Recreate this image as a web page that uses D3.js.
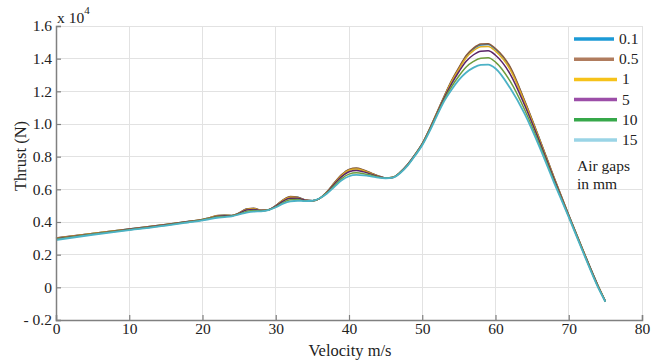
<!DOCTYPE html>
<html>
<head>
<meta charset="utf-8">
<script src="https://cdn.jsdelivr.net/npm/d3@7"></script>
<style>
  html, body { margin: 0; padding: 0; background: #fff; }
  svg { display: block; }
  text { font-family: "Liberation Serif", "Times New Roman", serif; fill: #222; }
</style>
</head>
<body>
<svg id="chart" width="654" height="360"></svg>
<script>
// ---- data (thrust in units of 10^4 N) ----
const velocity = [0, 5, 10, 15, 18, 20, 21, 22, 23, 24, 25, 26, 27, 28, 29, 30, 31, 32, 33, 34, 35, 36, 37, 38, 39, 40, 41, 42, 43, 44, 45, 46, 47, 48, 49, 50, 51, 52, 53, 54, 55, 56, 57, 58, 59, 60, 62, 64, 66, 68, 70, 72, 74, 75];

const gap01 = [0.301, 0.330, 0.357, 0.385, 0.403, 0.416, 0.426, 0.439, 0.441, 0.440, 0.455, 0.479, 0.483, 0.472, 0.475, 0.500, 0.534, 0.554, 0.551, 0.535, 0.530, 0.545, 0.585, 0.639, 0.688, 0.720, 0.728, 0.716, 0.699, 0.682, 0.670, 0.674, 0.705, 0.752, 0.812, 0.880, 0.969, 1.069, 1.169, 1.262, 1.341, 1.415, 1.459, 1.484, 1.486, 1.456, 1.344, 1.136, 0.908, 0.670, 0.441, 0.221, 0.010, -0.085];
const gap05 = [0.302, 0.330, 0.357, 0.385, 0.403, 0.416, 0.426, 0.440, 0.442, 0.440, 0.455, 0.480, 0.484, 0.472, 0.475, 0.500, 0.535, 0.556, 0.552, 0.535, 0.530, 0.545, 0.585, 0.640, 0.690, 0.722, 0.730, 0.718, 0.700, 0.682, 0.670, 0.674, 0.705, 0.752, 0.812, 0.880, 0.970, 1.070, 1.170, 1.265, 1.345, 1.420, 1.465, 1.490, 1.492, 1.462, 1.350, 1.140, 0.910, 0.672, 0.442, 0.222, 0.010, -0.085];
const gap1 = [0.300, 0.329, 0.356, 0.384, 0.402, 0.415, 0.425, 0.438, 0.440, 0.439, 0.454, 0.477, 0.481, 0.471, 0.475, 0.499, 0.532, 0.552, 0.549, 0.534, 0.530, 0.545, 0.584, 0.637, 0.685, 0.717, 0.725, 0.714, 0.697, 0.681, 0.670, 0.674, 0.704, 0.751, 0.811, 0.879, 0.968, 1.067, 1.166, 1.258, 1.335, 1.406, 1.449, 1.473, 1.475, 1.446, 1.333, 1.130, 0.904, 0.668, 0.440, 0.220, 0.009, -0.085];
const gap5 = [0.298, 0.327, 0.355, 0.383, 0.401, 0.414, 0.423, 0.435, 0.438, 0.438, 0.452, 0.473, 0.477, 0.470, 0.474, 0.497, 0.527, 0.546, 0.545, 0.533, 0.530, 0.545, 0.582, 0.632, 0.678, 0.708, 0.716, 0.707, 0.693, 0.679, 0.669, 0.673, 0.703, 0.750, 0.810, 0.877, 0.965, 1.063, 1.160, 1.246, 1.320, 1.384, 1.424, 1.446, 1.448, 1.421, 1.306, 1.113, 0.893, 0.661, 0.438, 0.218, 0.007, -0.086];
const gap10 = [0.294, 0.325, 0.352, 0.380, 0.399, 0.412, 0.421, 0.430, 0.434, 0.437, 0.449, 0.465, 0.470, 0.467, 0.473, 0.493, 0.519, 0.536, 0.537, 0.530, 0.530, 0.545, 0.578, 0.623, 0.666, 0.693, 0.701, 0.696, 0.686, 0.675, 0.669, 0.673, 0.702, 0.747, 0.807, 0.873, 0.960, 1.056, 1.150, 1.228, 1.294, 1.349, 1.383, 1.403, 1.405, 1.379, 1.262, 1.086, 0.876, 0.650, 0.434, 0.214, 0.003, -0.087];
const gap15 = [0.290, 0.322, 0.350, 0.378, 0.397, 0.410, 0.418, 0.426, 0.430, 0.435, 0.446, 0.458, 0.464, 0.465, 0.472, 0.490, 0.512, 0.526, 0.530, 0.528, 0.530, 0.545, 0.575, 0.615, 0.655, 0.680, 0.688, 0.686, 0.680, 0.672, 0.668, 0.672, 0.700, 0.745, 0.805, 0.870, 0.955, 1.050, 1.140, 1.210, 1.270, 1.315, 1.345, 1.362, 1.364, 1.340, 1.220, 1.060, 0.860, 0.640, 0.430, 0.210, 0.000, -0.088];

const seriesNames = ["0.1", "0.5", "1", "5", "10", "15"];
const seriesValues = [gap01, gap05, gap1, gap5, gap10, gap15];
const lineColors = ["#2a82bd", "#8c5a3c", "#dfae22", "#5a2468", "#6e9c3c", "#4cb2c6"];
const legendColors = ["#1c9ad6", "#b07c5e", "#f6c21a", "#9c4ea8", "#36a84a", "#9ad4e6"];

const xTicks = [0, 10, 20, 30, 40, 50, 60, 70, 80];
const yTicks = [-0.2, 0, 0.2, 0.4, 0.6, 0.8, 1.0, 1.2, 1.4, 1.6];
const yTickLabels = ["- 0.2", "0", "0.2", "0.4", "0.6", "0.8", "1.0", "1.2", "1.4", "1.6"];

// ---- layout ----
const svg = d3.select("#chart");
const L = 56, R = 642, T = 26, B = 320;
const x = d3.scaleLinear().domain([0, 80]).range([L, R]);
const y = d3.scaleLinear().domain([-0.2, 1.6]).range([B, T]);

// grid
const grid = svg.append("g");
grid.selectAll("line.v").data(xTicks).join("line")
  .attr("x1", d => x(d)).attr("x2", d => x(d)).attr("y1", T).attr("y2", B)
  .attr("stroke", "#e2e2e2").attr("stroke-width", 1).attr("shape-rendering", "crispEdges");
grid.selectAll("line.h").data(yTicks).join("line")
  .attr("x1", L).attr("x2", R).attr("y1", d => y(d)).attr("y2", d => y(d))
  .attr("stroke", "#e2e2e2").attr("stroke-width", 1).attr("shape-rendering", "crispEdges");

// lines
const line = d3.line().x(d => x(d[0])).y(d => y(d[1])).curve(d3.curveMonotoneX);
seriesValues.forEach((vals, i) => {
  svg.append("path")
    .datum(velocity.map((v, j) => [v, vals[j]]))
    .attr("fill", "none")
    .attr("stroke", lineColors[i])
    .attr("stroke-width", i === 5 ? 1.8 : 1.5)
    .attr("d", line);
});

// axes
const xAxis = svg.append("g").attr("transform", `translate(0,${B})`)
  .call(d3.axisBottom(x).tickValues(xTicks).tickSize(-5).tickPadding(3).tickFormat(d3.format("d")));
const yAxis = svg.append("g").attr("transform", `translate(${L},0)`)
  .call(d3.axisLeft(y).tickValues(yTicks).tickSize(-5).tickPadding(4).tickFormat((d, i) => yTickLabels[i]));
[xAxis, yAxis].forEach(g => {
  g.select(".domain").attr("stroke", "#808080").attr("stroke-width", 1.5);
  g.selectAll(".tick line").attr("stroke", "#808080").attr("stroke-width", 1.2);
  g.selectAll("text").attr("font-size", 15.5).attr("fill", "#222")
    .attr("font-family", "Liberation Serif, serif");
});

// multiplier
const mult = svg.append("text").attr("x", 57).attr("y", 23).attr("font-size", 15.5);
mult.append("tspan").text("x 10");
mult.append("tspan").attr("font-size", 11).attr("dy", -9).text("4");

// axis titles
svg.append("text").attr("x", (L + R) / 2 + 1).attr("y", 356)
  .attr("text-anchor", "middle").attr("font-size", 16.5).text("Velocity m/s");
svg.append("text").attr("transform", "translate(26,156) rotate(-90)")
  .attr("text-anchor", "middle").attr("font-size", 16.5).text("Thrust (N)");

// legend
const lg = svg.append("g");
lg.append("rect").attr("x", 568).attr("y", T).attr("width", R - 568).attr("height", 163)
  .attr("fill", "#fff").attr("stroke", "#e2e2e2").attr("stroke-width", 1).attr("shape-rendering", "crispEdges");
seriesNames.forEach((name, i) => {
  const yy = 39 + i * 20.2;
  lg.append("line").attr("x1", 574).attr("x2", i < 2 ? 614 : 617)
    .attr("y1", yy).attr("y2", yy)
    .attr("stroke", legendColors[i]).attr("stroke-width", 3.5);
  lg.append("text").attr("x", i < 2 ? 619 : 622).attr("y", yy + 5)
    .attr("font-size", 15.5).text(name);
});
lg.append("text").attr("x", 577).attr("y", 171).attr("font-size", 15.5).text("Air gaps");
lg.append("text").attr("x", 577).attr("y", 189).attr("font-size", 15.5).text("in mm");
</script>
</body>
</html>
